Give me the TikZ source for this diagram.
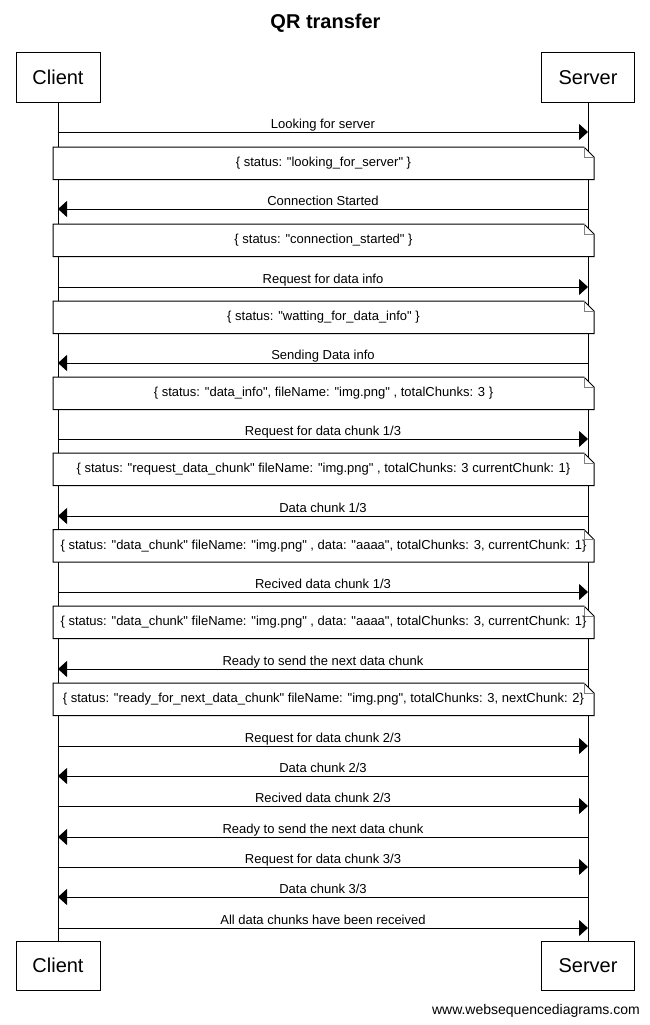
\documentclass[tikz,border=0pt]{standalone}
\usepackage{fontspec}
\setmainfont{Liberation Sans}[Ligatures=TeXOff]
\usetikzlibrary{arrows.meta}
\newcommand\dq{\char34\relax}
\newcommand\seqnote[3]{%
  \filldraw[fill=white,line width=1pt] (53,#2) -- (584,#2) -- (594,#2+10) -- (594,#2+32.5) -- (53,#2+32.5) -- cycle;
  \draw[gray,line width=0.8pt] (584,#2) -- (584,#2+10) -- (594,#2+10);
  \node[ntext] (#1) at (323.5,#2+16.5) {#3};}
\newcommand\seqmsg[4]{% name, y, direction (r/l), label
  \coordinate (#1c) at (58,#2);
  \coordinate (#1s) at (588,#2);
  \ifx r#3\draw[msg] (#1c) -- (#1s);\else\draw[msg] (#1s) -- (#1c);\fi
  \node[lbl] (#1l) at (323,#2-3.5) {#4};}
\begin{document}
\begin{tikzpicture}[x=1pt,y=-1pt,
  box/.style={draw,line width=1pt,minimum height=49pt,inner sep=0pt,font=\fontsize{20}{24}\selectfont},
  msg/.style={-{Triangle[length=9pt,width=16pt]},line width=1pt},
  lbl/.style={anchor=base,inner sep=0pt,font=\fontsize{13}{15}\selectfont},
  ntext/.style={inner sep=0pt,font=\fontsize{13}{15}\selectfont},
  life/.style={line width=1pt}]
\useasboundingbox (0,0) rectangle (649,1025);
\node[anchor=base,font=\bfseries\fontsize{20}{24}\selectfont] (title) at (325.5,28.5) {QR transfer};
\node[box,minimum width=84pt] (ct) at (58,77.5) {Client};
\node[box,minimum width=93pt] (st) at (588,77.5) {Server};
\node[box,minimum width=84pt] (cb) at (58,965.5) {Client};
\node[box,minimum width=93pt] (sb) at (588,965.5) {Server};
\draw[life] (ct) -- (cb);
\draw[life] (st) -- (sb);
\seqmsg{m1}{132}{r}{Looking for server}
\seqnote{n1}{147}{\{ status: \dq looking\_for\_server\dq{} \}}
\seqmsg{m2}{209}{l}{Connection Started}
\seqnote{n2}{224}{\{ status: \dq connection\_started\dq{} \}}
\seqmsg{m3}{287}{r}{Request for data info}
\seqnote{n3}{301}{\{ status: \dq watting\_for\_data\_info\dq{} \}}
\seqmsg{m4}{363}{l}{Sending Data info}
\seqnote{n4}{377}{\{ status: \dq data\_info\dq, fileName: \dq img.png\dq{} , totalChunks: 3 \}}
\seqmsg{m5}{439}{r}{Request for data chunk 1/3}
\seqnote{n5}{453}{\{ status: \dq request\_data\_chunk\dq{} fileName: \dq img.png\dq{} , totalChunks: 3 currentChunk: 1\}}
\seqmsg{m6}{516}{l}{Data chunk 1/3}
\seqnote{n6}{529.5}{\{ status: \dq data\_chunk\dq{} fileName: \dq img.png\dq{} , data: \dq aaaa\dq, totalChunks: 3, currentChunk: 1\}}
\seqmsg{m7}{592}{r}{Recived data chunk 1/3}
\seqnote{n7}{606}{\{ status: \dq data\_chunk\dq{} fileName: \dq img.png\dq{} , data: \dq aaaa\dq, totalChunks: 3, currentChunk: 1\}}
\seqmsg{m8}{669}{l}{Ready to send the next data chunk}
\seqnote{n8}{683}{\{ status: \dq ready\_for\_next\_data\_chunk\dq{} fileName: \dq img.png\dq, totalChunks: 3, nextChunk: 2\}}
\seqmsg{m9}{746}{r}{Request for data chunk 2/3}
\seqmsg{m10}{776}{l}{Data chunk 2/3}
\seqmsg{m11}{806}{r}{Recived data chunk 2/3}
\seqmsg{m12}{837}{l}{Ready to send the next data chunk}
\seqmsg{m13}{867}{r}{Request for data chunk 3/3}
\seqmsg{m14}{897}{l}{Data chunk 3/3}
\seqmsg{m15}{928}{r}{All data chunks have been received}
\node[anchor=base east,inner sep=0pt,font=\fontsize{14}{16}\selectfont] (foot) at (640,1014) {www.websequencediagrams.com};
\end{tikzpicture}
\end{document}
